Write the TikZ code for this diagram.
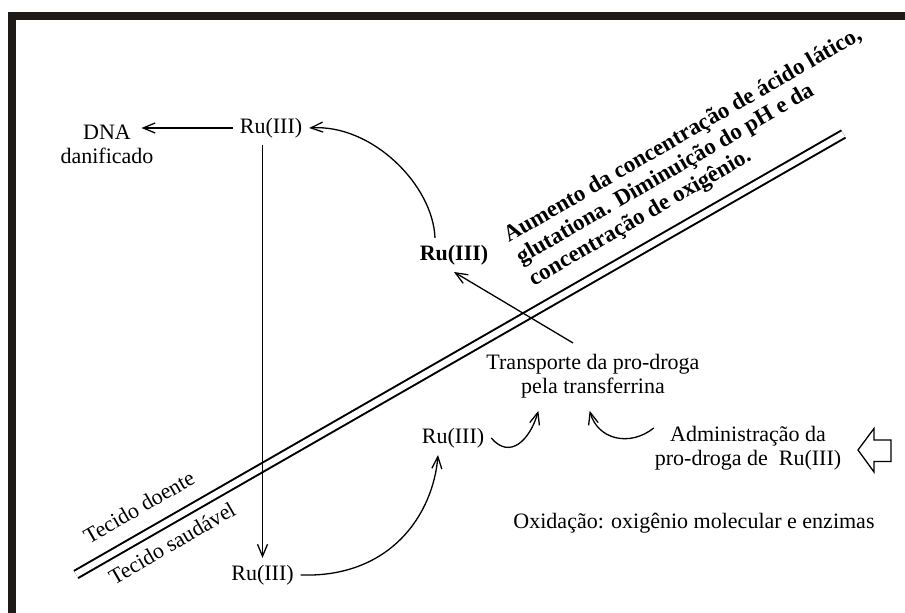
\documentclass[tikz,border=0pt]{standalone}
\usepackage{fontspec}
\setmainfont{Liberation Serif}
\usepackage{tikz}
\usetikzlibrary{arrows.meta}
\definecolor{FrameInk}{HTML}{1E1A18}

\begin{document}
\begin{tikzpicture}[x=.5pt,y=-.5pt,font=\fontsize{11}{12}\selectfont,
  lbl/.style={align=center},
  slant/.style={rotate=30},
  arr/.style={line width=.65pt,-{Straight Barb[length=6pt,width=5pt]}},
  wall/.style={line width=1pt,double,double distance=3.1pt}]
\useasboundingbox (0,0) rectangle (905,613);
\draw[FrameInk,line width=3.85pt] (12.2,613) -- (12.2,16.1) -- (905,16.1);
\coordinate (wallA) at (76,574.5); \coordinate (wallB) at (843.5,134);
\draw[wall] (wallA) -- (wallB);
\node[slant] (doente) at (139,507) {Tecido doente};
\node[slant] (saudavel) at (172,543) {Tecido saudável};
\node[slant,anchor=north west,inner sep=0pt,align=left,font=\fontsize{11.5}{12.5}\selectfont\bfseries] (meio) at (500.3,228.8)
  {Aumento da concentração de ácido lático,\\glutationa. Diminuição do pH e da\\concentração de oxigênio.};
\node[lbl] (dna) at (107,144) {DNA\\danificado};
\node (rutop) at (271,128) {Ru(III)};
\node (rubot) at (262.5,575) {Ru(III)};
\node (rumid) at (453,438) {Ru(III)};
\node[font=\fontsize{11}{12}\selectfont\bfseries] (rubold) at (454,255) {Ru(III)};
\node[lbl] (transp) at (593,376) {Transporte da pro-droga\\pela transferrina};
\node[lbl] (admin) at (748,448) {Administração da\\pro-droga de\ \ Ru(III)};
\node (oxid) at (694,523) {Oxidação: oxigênio molecular e enzimas};
\draw[arr] (rutop.west) -- ([xshift=-9.5pt]rutop.west -| dna.east);
\draw[arr] (rutop.south -| rubot.north) -- (rubot.north);
\draw[arr] (rubot.east) .. controls (390,578) and (433,515) .. ([xshift=-7.5pt]rumid.south);
\draw[arr,shorten >=3pt] (rumid.east) .. controls (510,460) and (530,440) .. ([xshift=-26.5pt]transp.south);
\draw[arr,shorten >=3pt] ([xshift=3pt,yshift=10pt]admin.west) .. controls (630,447) and (598,440) .. ([xshift=-2.5pt]transp.south);
\draw[arr] ([xshift=-10pt,yshift=2pt]transp.north) -- (rubold.south);
\draw[arr] ([xshift=-9.5pt]rubold.north) .. controls (433,185) and (372,124) .. (rutop.east);
\draw[line width=.65pt,line join=miter] (858,450) -- (874,428.5) -- (874,440) -- (891,440) -- (891,461.5) -- (874,461.5) -- (874,472) -- cycle;
\end{tikzpicture}
\end{document}
